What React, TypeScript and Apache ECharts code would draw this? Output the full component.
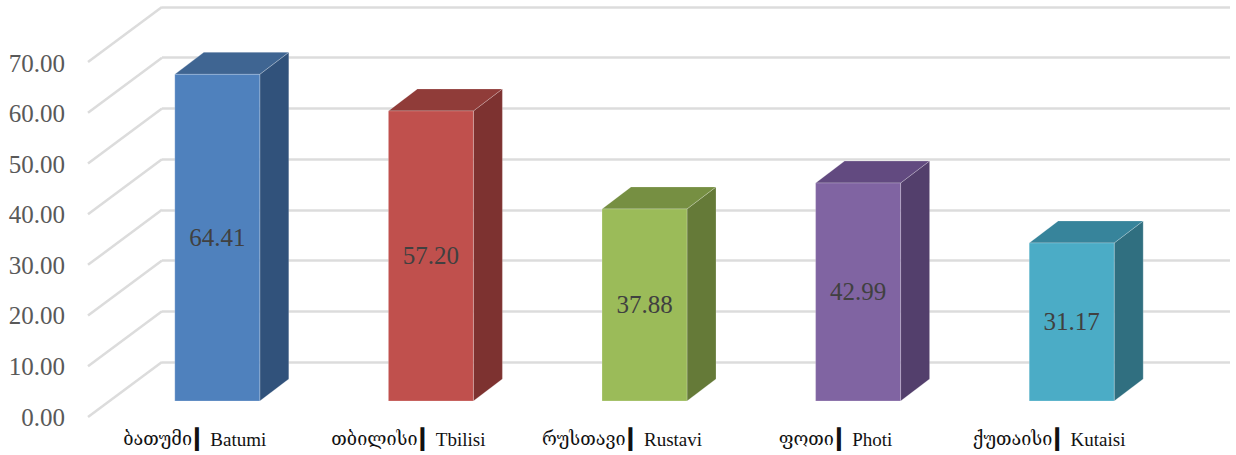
import React, { useEffect, useRef } from "react";
import * as echarts from "echarts";

const categories = ["ბათუმი ▎ Batumi", "თბილისი ▎Tbilisi", "რუსთავი ▎ Rustavi", "ფოთი ▎ Photi", "ქუთაისი ▎ Kutaisi"];
const values = [64.41, 57.2, 37.88, 42.99, 31.17];
const ticks = [0, 10, 20, 30, 40, 50, 60, 70];
const frontColors = ["#4f81bd", "#c0504d", "#9bbb59", "#8064a2", "#4bacc6"];
const sideColors = ["#31527b", "#7d3230", "#657a38", "#533f6c", "#306f80"];
const topColors = ["#3f6592", "#903c39", "#768f42", "#624a80", "#37849b"];

const WALL_DX = 74;
const WALL_DY = 55;
const BAR_DX = -51.5;
const BAR_DY = 39;
const BAR_W = 85;
const DEPTH_X = 29;
const DEPTH_Y = 22;
const SERIF = '"Liberation Serif", "DejaVu Serif", serif';
const EDGE = "rgba(255,255,255,0.22)";

export default function App() {
  const ref = useRef<HTMLDivElement>(null);
  useEffect(() => {
    const chart = echarts.init(ref.current!, undefined, { renderer: "svg" });
    chart.setOption({
      animation: false,
      backgroundColor: "#ffffff",
      grid: [
        { left: 162, top: 7, width: 1068, height: 355 },
        { left: 88, top: 63, width: 1068, height: 354 },
      ],
      xAxis: [
        { type: "category", gridIndex: 0, data: categories, axisLine: { show: false }, axisTick: { show: false }, axisLabel: { show: false } },
        {
          type: "category", gridIndex: 1, data: categories,
          axisLine: { show: false }, axisTick: { show: false },
          axisLabel: {
            margin: 12, interval: 0, color: "#111111", fontFamily: SERIF,
            formatter: (s: string) => {
              const [geo, lat] = s.split("▎");
              return `{g|${geo.trim()}} {b|▎}{l|${lat.trim()}}`;
            },
            rich: {
              g: { fontFamily: SERIF, fontSize: 18, color: "#111111" },
              b: { fontFamily: SERIF, fontSize: 20, color: "#111111" },
              l: { fontFamily: SERIF, fontSize: 19, color: "#111111" },
            },
          },
        },
      ],
      yAxis: [
        {
          type: "value", gridIndex: 0, min: 0, max: 70, interval: 10,
          axisLine: { show: false }, axisTick: { show: false }, axisLabel: { show: false },
          splitLine: { show: true, lineStyle: { color: "#dcdcdc", width: 2.5 } },
        },
        {
          type: "value", gridIndex: 1, min: 0, max: 70, interval: 10,
          axisLine: { show: false }, axisTick: { show: false }, splitLine: { show: false },
          axisLabel: { margin: 23, fontFamily: SERIF, fontSize: 25, color: "#595959", formatter: (v: number) => v.toFixed(2) },
        },
      ],
      series: [
        {
          type: "custom", xAxisIndex: 0, yAxisIndex: 0, silent: true, z: 1,
          data: ticks.map((t) => [0, t]),
          renderItem: (params: any, api: any) => {
            const y = api.coord([0, api.value(1)])[1];
            const x = params.coordSys.x;
            return {
              type: "line",
              shape: { x1: x, y1: y, x2: x - WALL_DX, y2: y + WALL_DY },
              style: { stroke: "#dcdcdc", lineWidth: 2.5 },
            };
          },
        },
        {
          type: "custom", xAxisIndex: 0, yAxisIndex: 0, silent: true, z: 5,
          data: values.map((v, i) => [i, v]),
          renderItem: (_params: any, api: any) => {
            const i = api.value(0);
            const top = api.coord([i, api.value(1)]);
            const base = api.coord([i, 0]);
            const l = top[0] + BAR_DX - BAR_W / 2;
            const r = l + BAR_W;
            const t = top[1] + BAR_DY;
            const b = base[1] + BAR_DY;
            return {
              type: "group",
              children: [
                { type: "polygon", shape: { points: [[r, t], [r + DEPTH_X, t - DEPTH_Y], [r + DEPTH_X, b - DEPTH_Y], [r, b]] }, style: { fill: sideColors[i], stroke: EDGE, lineWidth: 1 } },
                { type: "polygon", shape: { points: [[l, t], [l + DEPTH_X, t - DEPTH_Y], [r + DEPTH_X, t - DEPTH_Y], [r, t]] }, style: { fill: topColors[i], stroke: EDGE, lineWidth: 1 } },
                { type: "rect", shape: { x: l, y: t, width: BAR_W, height: b - t }, style: { fill: frontColors[i], stroke: EDGE, lineWidth: 1 } },
                {
                  type: "text", x: (l + r) / 2, y: (t + b) / 2,
                  style: { text: api.value(1).toFixed(2), fontFamily: SERIF, fontSize: 25, fill: "#404040", align: "center", verticalAlign: "middle" },
                },
              ],
            };
          },
        },
      ],
    });
    return () => chart.dispose();
  }, []);
  return <div ref={ref} style={{ position: "fixed", left: 0, top: 0, width: 1236, height: 455 }} />;
}
